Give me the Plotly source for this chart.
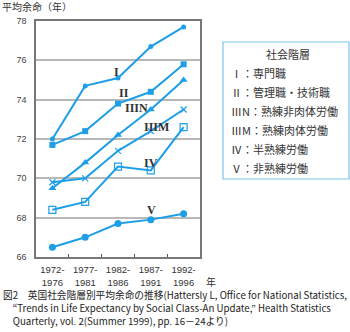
import plotly.graph_objects as go

# Period categories (5-year spans)
periods = ["1972-<br>1976", "1977-<br>1981", "1982-<br>1986", "1987-<br>1991", "1992-<br>1996"]

# Life expectancy by social class (years)
class_I = [72.0, 74.7, 75.1, 76.7, 77.7]
class_II = [71.7, 72.4, 73.8, 74.4, 75.8]
class_IIIN = [69.5, 70.8, 72.2, 73.5, 75.0]
class_IIIM = [69.8, 70.0, 71.4, 72.4, 73.5]
class_IV = [68.4, 68.8, 70.6, 70.4, 72.6]
class_V = [66.5, 67.0, 67.7, 67.9, 68.2]

y_ticks = [66, 68, 70, 72, 74, 76, 78]

legend_title = "社会階層"
legend_lines = [
    "Ⅰ：専門職",
    "Ⅱ：管理職・技術職",
    "ⅢN：熟練非肉体労働",
    "ⅢM：熟練肉体労働",
    "Ⅳ：半熟練労働",
    "Ⅴ：非熟練労働",
]

caption_lines = [
    "図2　英国社会階層別平均余命の推移(Hattersly L, Office for National Statistics,",
    "　“Trends in Life Expectancy by Social Class-An Update,” Health Statistics",
    "　Quarterly, vol. 2(Summer 1999), pp. 16－24より)",
]

BLUE = "#1e9ee6"
CJK = "Noto Sans CJK JP"
SERIF = "Liberation Serif"

W, H = 350, 332
ML, MR, MT, MB = 36, 150, 21, 75
PW, PH = W - ML - MR, H - MT - MB


def px(x):
    return (x - ML) / PW


def py(y):
    return (H - MB - y) / PH


series = [
    ("Ⅰ", class_I, dict(symbol="circle", size=5)),
    ("Ⅱ", class_II, dict(symbol="square", size=6)),
    ("ⅢN", class_IIIN, dict(symbol="triangle-up", size=7)),
    ("ⅢM", class_IIIM, dict(symbol="x-thin", size=6, line=dict(color=BLUE, width=1.2))),
    ("Ⅳ", class_IV, dict(symbol="square-open", size=7, line=dict(color=BLUE, width=1.2))),
    ("Ⅴ", class_V, dict(symbol="circle", size=7)),
]

fig = go.Figure()
for name, vals, marker in series:
    fig.add_trace(go.Scatter(
        x=periods, y=vals, name=name, mode="lines+markers",
        line=dict(color=BLUE, width=2),
        marker=dict(color=BLUE, **marker),
        showlegend=False,
    ))

annotations = []

# Series labels beside the lines (pixel positions)
line_labels = [
    ("I", 116, 72), ("II", 124, 93), ("IIIN", 136, 108),
    ("IIIM", 156, 127), ("IV", 151, 163), ("V", 151, 210),
]
for txt, x, y in line_labels:
    annotations.append(dict(
        x=px(x), y=py(y), xref="paper", yref="paper", text="<b>" + txt + "</b>", showarrow=False,
        font=dict(family=SERIF, size=12, color="#333333"), xanchor="center", yanchor="middle",
    ))

# Legend box
annotations.append(dict(
    x=px(288), y=py(54), xref="paper", yref="paper", text=legend_title, showarrow=False,
    font=dict(family=CJK, size=11, color="#333333"), xanchor="center", yanchor="middle",
))
for i, t in enumerate(legend_lines):
    annotations.append(dict(
        x=px(229), y=py(73 + i * 19), xref="paper", yref="paper", text=t, showarrow=False,
        font=dict(family=CJK, size=11, color="#333333"), xanchor="left", yanchor="middle",
    ))

# Axis titles
annotations.append(dict(
    x=px(0), y=py(7), xref="paper", yref="paper", text="平均余命（年）", showarrow=False,
    font=dict(family=CJK, size=10, color="#333333"), xanchor="left", yanchor="middle",
))
annotations.append(dict(
    x=px(204), y=py(281), xref="paper", yref="paper", text="年", showarrow=False,
    font=dict(family=CJK, size=10, color="#333333"), xanchor="left", yanchor="middle",
))

# Source caption
for i, t in enumerate(caption_lines):
    annotations.append(dict(
        x=px(1), y=py(295 + i * 13), xref="paper", yref="paper", text=t, showarrow=False,
        font=dict(family=CJK, size=9.7, color="#222222"), xanchor="left", yanchor="middle",
    ))

shapes = [dict(
    type="rect", xref="paper", yref="paper",
    x0=px(223), x1=px(349), y0=py(42), y1=py(179),
    line=dict(color="#7cc4ec", width=1.2), fillcolor="white", layer="above",
)]

fig.update_layout(
    width=W, height=H,
    margin=dict(l=ML, r=MR, t=MT, b=MB, pad=0),
    paper_bgcolor="white", plot_bgcolor="white",
    font=dict(family=CJK, color="#333333"),
    annotations=annotations, shapes=shapes,
    xaxis=dict(
        type="category", range=[-0.5, 4.5], tickson="boundaries",
        ticks="inside", ticklen=3, tickcolor="#555555", tickangle=0,
        showline=True, linecolor="#777777", linewidth=1.5, mirror=True,
        showgrid=False, zeroline=False,
        tickfont=dict(family="Liberation Sans", size=9.5, color="#333333"),
        ticklabelstandoff=3,
    ),
    yaxis=dict(
        range=[66, 78], tickvals=y_ticks, ticks="",
        showline=True, linecolor="#777777", linewidth=1.5, mirror=True,
        showgrid=True, gridcolor="#b8b8b8", gridwidth=1.5, zeroline=False,
        tickfont=dict(family="Liberation Sans", size=9, color="#444444"),
        ticklabelstandoff=6,
    ),
)

fig.write_html("out.html")
